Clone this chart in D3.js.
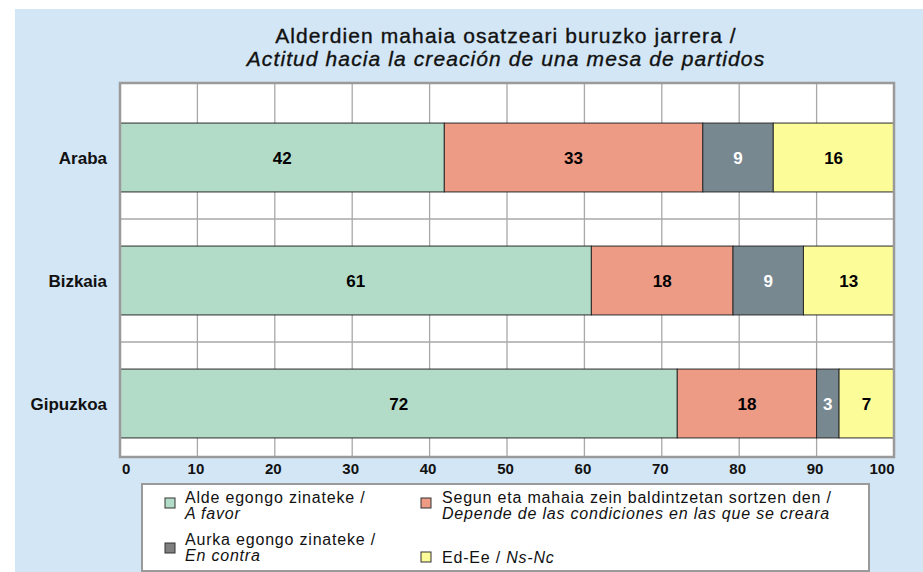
<!DOCTYPE html>
<html>
<head>
<meta charset="utf-8">
<script src="https://cdn.jsdelivr.net/npm/d3@7"></script>
<style>
  body { margin: 0; background: #ffffff; }
  svg { display: block; font-family: Arial, "Liberation Sans", sans-serif; }
</style>
</head>
<body>
<div id="chart"></div>
<script>
// data (bar lengths) + the labels printed on the bars
const regions = ["Araba", "Bizkaia", "Gipuzkoa"];
const aFavor = [41.9, 60.9, 72.0];
const dependeCond = [33.4, 18.3, 18.0];
const enContra = [9.1, 9.1, 2.9];
const nsNc = [15.6, 11.7, 7.1];
const aFavorLbl = ["42", "61", "72"];
const dependeCondLbl = ["33", "18", "18"];
const enContraLbl = ["9", "9", "3"];
const nsNcLbl = ["16", "13", "7"];
const xTicks = [0, 10, 20, 30, 40, 50, 60, 70, 80, 90, 100];
const titleLines = ["Alderdien mahaia osatzeari buruzko jarrera /", "Actitud hacia la creación de una mesa de partidos"];
const legendEu = ["Alde egongo zinateke  /", "Segun eta mahaia zein baldintzetan sortzen den /", "Aurka egongo zinateke /", "Ed-Ee / "];
const legendEs = ["A favor", "Depende de las condiciones en las que se creara", "En contra", "Ns-Nc"];

const keys = ["aFavor", "dependeCond", "enContra", "nsNc"];
const colors = {aFavor: "#b3dcc8", dependeCond: "#ee9b86", enContra: "#788891", nsNc: "#fcfc99"};
const labelColors = {aFavor: "#000", dependeCond: "#000", enContra: "#fff", nsNc: "#000"};
const labelsByKey = {aFavor: aFavorLbl, dependeCond: dependeCondLbl, enContra: enContraLbl, nsNc: nsNcLbl};

const width = 923, height = 572;
const plot = {left: 120, right: 894, top: 83, bottom: 457};

const table = regions.map((r, i) => ({
    region: r, index: i,
    aFavor: aFavor[i], dependeCond: dependeCond[i], enContra: enContra[i], nsNc: nsNc[i]
}));

const svg = d3.select("#chart").append("svg")
    .attr("width", width)
    .attr("height", height);

// light blue panel
svg.append("rect")
    .attr("x", 15).attr("y", 9)
    .attr("width", width - 15).attr("height", height - 9)
    .attr("fill", "#d2e6f5");

// title
const titleG = svg.append("g").attr("class", "titleG");
titleG.append("text")
    .attr("x", 506).attr("y", 43)
    .attr("text-anchor", "middle")
    .attr("font-size", 21)
    .attr("letter-spacing", 1.1)
    .attr("fill", "#111")
    .attr("stroke", "#111").attr("stroke-width", 0.35)
    .text(titleLines[0]);
titleG.append("text")
    .attr("x", 506).attr("y", 66)
    .attr("text-anchor", "middle")
    .attr("font-size", 21)
    .attr("letter-spacing", 1.1)
    .attr("font-style", "italic")
    .attr("fill", "#111")
    .attr("stroke", "#111").attr("stroke-width", 0.35)
    .text(titleLines[1]);

const xScale = d3.scaleLinear().domain([0, 100]).range([plot.left, plot.right]);
const yScale = d3.scaleBand().domain(regions).range([96, 465]).paddingInner(0.44).paddingOuter(0.22);

// plot background
svg.append("rect")
    .attr("x", plot.left).attr("y", plot.top)
    .attr("width", plot.right - plot.left).attr("height", plot.bottom - plot.top)
    .attr("fill", "#ffffff");

// vertical grid
const gridG = svg.append("g").attr("class", "gridG");
gridG.selectAll(".vGrid")
    .data(xTicks.slice(1, -1))
    .join("line")
    .attr("class", "vGrid")
    .attr("x1", d => xScale(d)).attr("x2", d => xScale(d))
    .attr("y1", plot.top).attr("y2", plot.bottom)
    .attr("stroke", "#a8a8a8").attr("stroke-width", 1.3);

// horizontal grid halfway between bars
const mids = regions.slice(1).map((r, i) =>
    (yScale(regions[i]) + yScale.bandwidth() + yScale(r)) / 2);
gridG.selectAll(".hGrid")
    .data(mids)
    .join("line")
    .attr("class", "hGrid")
    .attr("x1", plot.left).attr("x2", plot.right)
    .attr("y1", d => d).attr("y2", d => d)
    .attr("stroke", "#a8a8a8").attr("stroke-width", 1.3);

// stacked bars
const stacked = d3.stack().keys(keys)(table);
const seriesG = svg.append("g").attr("class", "seriesG")
    .selectAll("g")
    .data(stacked)
    .join("g")
    .attr("fill", s => colors[s.key]);

seriesG.selectAll("rect")
    .data(s => s.map(d => ({key: s.key, d0: d[0], d1: d[1], region: d.data.region, index: d.data.index})))
    .join("rect")
    .attr("x", d => xScale(d.d0))
    .attr("y", d => yScale(d.region))
    .attr("width", d => xScale(d.d1) - xScale(d.d0))
    .attr("height", yScale.bandwidth())
    .attr("stroke", "#2a2a2a")
    .attr("stroke-width", 1);

seriesG.selectAll("text")
    .data(s => s.map(d => ({key: s.key, d0: d[0], d1: d[1], region: d.data.region, index: d.data.index})))
    .join("text")
    .attr("x", d => (xScale(d.d0) + xScale(d.d1)) / 2)
    .attr("y", d => yScale(d.region) + yScale.bandwidth() / 2)
    .attr("dy", "0.36em")
    .attr("text-anchor", "middle")
    .attr("font-size", 17)
    .attr("font-weight", "bold")
    .attr("fill", d => labelColors[d.key])
    .text(d => labelsByKey[d.key][d.index]);

// plot frame
svg.append("rect")
    .attr("x", plot.left).attr("y", plot.top)
    .attr("width", plot.right - plot.left).attr("height", plot.bottom - plot.top)
    .attr("fill", "none")
    .attr("stroke", "#9a9a9a").attr("stroke-width", 2.5);

// category labels
svg.append("g").attr("class", "yAxisG")
    .selectAll("text")
    .data(regions)
    .join("text")
    .attr("x", 107)
    .attr("y", d => yScale(d) + yScale.bandwidth() / 2)
    .attr("dy", "0.36em")
    .attr("text-anchor", "end")
    .attr("font-size", 17)
    .attr("font-weight", "bold")
    .attr("fill", "#111")
    .text(d => d);

// x axis
const xAxisG = svg.append("g")
    .attr("class", "xAxisG")
    .attr("transform", "translate(0," + plot.bottom + ")")
    .call(d3.axisBottom(xScale).tickValues(xTicks).tickSize(0).tickPadding(6));
xAxisG.select(".domain").remove();
xAxisG.selectAll("text")
    .attr("font-family", "Arial, 'Liberation Sans', sans-serif")
    .attr("font-size", 15)
    .attr("font-weight", "bold")
    .attr("fill", "#111")
    .attr("text-anchor", d => d === 0 ? "start" : (d === 100 ? "end" : "middle"))
    .attr("dx", d => d === 0 ? 1.5 : (d === 100 ? 0 : -2));

// legend
const legendG = svg.append("g").attr("class", "legendG");
legendG.append("rect")
    .attr("x", 142).attr("y", 484)
    .attr("width", 727).attr("height", 87)
    .attr("fill", "#ffffff")
    .attr("stroke", "#9a9a9a").attr("stroke-width", 2);

// [square x, square y, text x, first baseline, second baseline]
const legendPos = [
    [165, 498, 185, 503, 519],
    [421, 498, 442, 503, 519],
    [165, 543, 185, 544.5, 560.5],
    [421, 552, 442, 562.5, null]
];

keys.forEach((k, i) => {
    const p = legendPos[i];
    legendG.append("rect")
        .attr("x", p[0]).attr("y", p[1])
        .attr("width", 10).attr("height", 10)
        .attr("fill", k === "enContra" ? "#7f7f7f" : colors[k])
        .attr("stroke", "#333").attr("stroke-width", 1);
    const t = legendG.append("text")
        .attr("x", p[2]).attr("y", p[3])
        .attr("font-size", 16)
        .attr("letter-spacing", 0.8)
        .attr("fill", "#111");
    if (p[4] === null) {
        t.append("tspan").text(legendEu[i]);
        t.append("tspan").attr("font-style", "italic").text(legendEs[i]);
    } else {
        t.text(legendEu[i]);
        legendG.append("text")
            .attr("x", p[2]).attr("y", p[4])
            .attr("font-size", 16)
            .attr("letter-spacing", 0.8)
            .attr("font-style", "italic")
            .attr("fill", "#111")
            .text(legendEs[i]);
    }
});
</script>
</body>
</html>
